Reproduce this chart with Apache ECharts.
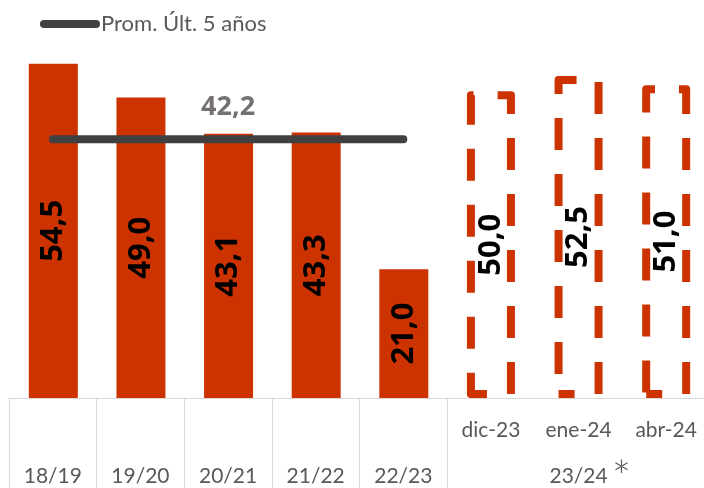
<!DOCTYPE html>
<html>
<head>
<meta charset="utf-8">
<script src="https://cdn.jsdelivr.net/npm/echarts@6/dist/echarts.min.js"></script>
<style>
    html, body { margin: 0; padding: 0; background: #fff; }
    #char1 { width: 704px; height: 488px; }
</style>
</head>
<body>
<div id="char1"></div>
<script>
    // 数据
    var seasons = ['18/19', '19/20', '20/21', '21/22', '22/23', 'dic-23', 'ene-24', 'abr-24'];
    var monthLabels = ['', '', '', '', '', 'dic-23', 'ene-24', 'abr-24'];
    var seasonLabels = ['18/19', '19/20', '20/21', '21/22', '22/23', '', '23/24', ''];
    var noteLabels = ['', '', '', '', '', '', '*', ''];
    var actualValues = [54.5, 49.0, 43.1, 43.3, 21.0, '-', '-', '-'];
    var estimateValues = ['-', '-', '-', '-', '-', 50.0, 52.5, 51.0];
    var avgValues = [42.2, 42.2, 42.2, 42.2, 42.2, '-', '-', '-'];
    var avgName = 'Prom. Últ. 5 años';

    var red = '#CC3300';
    var gray = '#595959';
    var font = 'Lato, "Open Sans", sans-serif';
    var boldFont = '"Open Sans", sans-serif';

    function fmt(p) {
        return p.value.toFixed(1).replace('.', ',');
    }

    function extend(dst, src) {
        for (var k in src) {
            dst[k] = src[k];
        }
        return dst;
    }

    var valueLabel = {
        show: true,
        position: 'inside',
        rotate: 90,
        fontFamily: boldFont,
        fontWeight: 'bold',
        fontSize: 31,
        color: '#000',
        formatter: fmt
    };

    // 只在第三个点显示平均值
    var avgData = avgValues.map(function (v, i) {
        if (i !== 2) {
            return v;
        }
        return {
            value: v,
            label: {
                show: true,
                position: 'top',
                distance: 18,
                fontFamily: boldFont,
                fontWeight: 'bold',
                fontSize: 27,
                color: '#767171',
                formatter: fmt
            }
        };
    });

    // 底部标签轴
    function labelAxis(labels, margin, fontSize, extra) {
        var axis = {
            type: 'category',
            position: 'bottom',
            data: seasons,
            axisLine: {show: false},
            axisTick: {show: false},
            axisLabel: {
                interval: 0,
                margin: margin,
                fontFamily: font,
                fontSize: fontSize,
                color: gray,
                formatter: function (v, i) { return labels[i]; }
            }
        };
        extend(axis.axisLabel, extra || {});
        return axis;
    }

    var monthAxis = labelAxis(monthLabels, 22, 21);
    monthAxis.axisLine = {show: true, lineStyle: {color: '#d9d9d9', width: 1}};
    monthAxis.axisTick = {
        show: true,
        length: 90,
        interval: function (index) { return index <= 5; },
        lineStyle: {color: '#d9d9d9', width: 1}
    };

    var char1 = echarts.init(document.getElementById('char1'));
    var charOption = {
        animation: false,
        legend: {
            left: 40,
            top: 13,
            padding: 0,
            itemWidth: 60,
            itemHeight: 8,
            data: [{name: avgName, icon: 'path://M4 0H56A4 4 0 0 1 56 8H4A4 4 0 0 1 4 0Z'}],
            textStyle: {fontFamily: font, fontSize: 22, color: gray, padding: [0, 0, 0, -4]}
        },
        grid: {left: 9, top: 30, width: 701, height: 368, outerBoundsMode: 'none', containLabel: false},
        xAxis: [
            monthAxis,
            labelAxis(seasonLabels, 68, 21),
            labelAxis(noteLabels, 57, 46, {padding: [0, 0, 0, 86], fontWeight: 300})
        ],
        yAxis: {
            type: 'value',
            min: 0,
            max: 60,
            show: false,
            splitLine: {show: false}
        },
        series: [
            {
                name: 'Real',
                type: 'bar',
                xAxisIndex: 0,
                barWidth: 49,
                barGap: '-100%',
                data: actualValues,
                itemStyle: {color: red},
                label: valueLabel
            },
            {
                name: 'Estimado',
                type: 'bar',
                xAxisIndex: 0,
                barWidth: 48,
                barGap: '-100%',
                data: estimateValues,
                itemStyle: {
                    color: 'rgba(255,255,255,0)',
                    borderColor: red,
                    borderWidth: 8,
                    borderType: [32, 24],
                    borderDashOffset: 16,
                    borderJoin: 'round'
                },
                label: valueLabel
            },
            {
                name: avgName,
                type: 'line',
                xAxisIndex: 0,
                data: avgData,
                symbol: 'circle',
                symbolSize: 0,
                showSymbol: true,
                z: 5,
                itemStyle: {color: '#404040'},
                lineStyle: {color: '#404040', width: 8, cap: 'round'}
            }
        ]
    };
    char1.setOption(charOption);
</script>
</body>
</html>
